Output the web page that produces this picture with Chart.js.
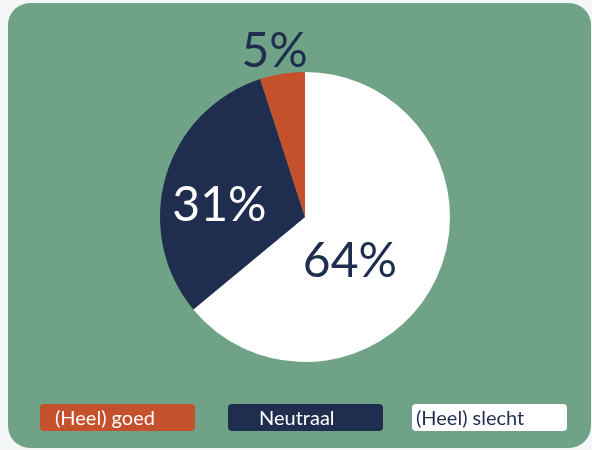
<!DOCTYPE html>
<html>
<head>
<meta charset="utf-8">
<script src="https://cdn.jsdelivr.net/npm/chart.js@4"></script>
<style>
    html, body { margin: 0; padding: 0; background: #f5f6f8; }
    body { width: 592px; height: 450px; position: relative; overflow: hidden; font-family: Lato, "Noto Sans", sans-serif; }
    .card { position: absolute; left: 8px; top: 3px; width: 583px; height: 445px; background: #6fa287; border-radius: 22px; }
    #chart-wrap { position: absolute; left: 0; top: 0; width: 592px; height: 450px; }
    .legend-box { position: absolute; top: 404px; width: 155px; height: 27px; border-radius: 4px; font-size: 20px; line-height: 27px; white-space: nowrap; box-sizing: border-box; }
</style>
</head>
<body>
<div class="card"></div>
<div id="chart-wrap"><canvas id="pie" width="592" height="450"></canvas></div>
<div id="legend"></div>
<script>
const categories = ['(Heel) goed', 'Neutraal', '(Heel) slecht'];
const shares = [5, 31, 64];
const sliceColors = ['#c4502c', '#1f2d4e', '#ffffff'];
const labelColors = ['#1f2d4e', '#ffffff', '#1f2d4e'];

// the pie runs clockwise from the top: slecht, neutraal, goed
const order = [2, 1, 0];

// where each percentage sits, as a fraction of the radius from the centre
const labelSpot = [[-0.21, -1.14], [-0.59, -0.08], [0.31, 0.31]];

const legendLeft = [40, 228, 412];
const legendPad = [15, 31, 4];

const sliceLabels = {
    id: 'sliceLabels',
    afterDatasetsDraw(chart) {
        const ctx = chart.ctx;
        const arcs = chart.getDatasetMeta(0).data;
        ctx.save();
        ctx.textAlign = 'center';
        ctx.textBaseline = 'middle';
        ctx.font = '48px Lato, "Noto Sans", sans-serif';
        arcs.forEach((arc, i) => {
            const idx = order[i];
            const r = arc.outerRadius;
            ctx.fillStyle = labelColors[idx];
            ctx.fillText(shares[idx] + '%', arc.x + labelSpot[idx][0] * r, arc.y + labelSpot[idx][1] * r);
        });
        ctx.restore();
    }
};

new Chart(document.getElementById('pie'), {
    type: 'pie',
    data: {
        labels: order.map(i => categories[i]),
        datasets: [{
            data: order.map(i => shares[i]),
            backgroundColor: order.map(i => sliceColors[i]),
            borderWidth: 0
        }]
    },
    options: {
        responsive: false,
        animation: false,
        events: [],
        layout: { padding: { left: 160, right: 142, top: 72, bottom: 88 } },
        plugins: { legend: { display: false }, tooltip: { enabled: false } }
    },
    plugins: [sliceLabels]
});

const legendEl = document.getElementById('legend');
categories.forEach((name, i) => {
    const box = document.createElement('div');
    box.className = 'legend-box';
    box.style.left = legendLeft[i] + 'px';
    box.style.paddingLeft = legendPad[i] + 'px';
    box.style.background = sliceColors[i];
    box.style.color = i === 2 ? '#1f2d4e' : '#ffffff';
    box.textContent = name;
    legendEl.appendChild(box);
});
</script>
</body>
</html>
